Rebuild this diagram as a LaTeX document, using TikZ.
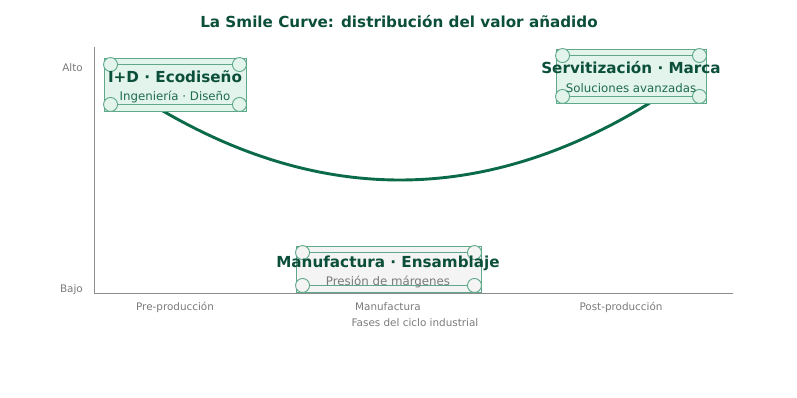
\documentclass[tikz,border=0pt]{standalone}
\usepackage{fontspec}
\setmainfont{DejaVu Sans}
\definecolor{deepgreen}{HTML}{0B4F3A}
\definecolor{curvegreen}{HTML}{0B6B48}
\definecolor{subgreen}{HTML}{1F6B4E}
\definecolor{boxline}{HTML}{5FA88A}
\definecolor{mintfill}{HTML}{E2F4EC}
\definecolor{greyfill}{HTML}{F3F4F3}
\definecolor{axisgrey}{HTML}{8C8C8C}
\definecolor{labelgrey}{HTML}{7A7A7A}
\tikzset{
	scrollbox/.style = {rectangle, draw=boxline, line width=0.9pt, inner sep=0pt},
	titletxt/.style = {font=\fontsize{15.2}{18}\selectfont\bfseries, text=deepgreen, inner sep=0pt},
	headtxt/.style = {font=\fontsize{15.2}{18}\selectfont\bfseries, text=deepgreen, inner sep=0pt},
	subtxt/.style = {font=\fontsize{11.8}{14}\selectfont, inner sep=0pt},
	ticktxt/.style = {font=\fontsize{10.4}{12}\selectfont, text=labelgrey, inner sep=0pt},
	axisline/.style = {draw=axisgrey, line width=0.9pt},
	smile/.style = {draw=curvegreen, line width=2.9pt}
}
\newcommand{\scrollcorners}[2]{%
	\draw[boxline, line width=0.9pt]
		([xshift=14pt, yshift=-7pt]#1.north west) -- ([xshift=-14pt, yshift=-7pt]#1.north east)
		([xshift=14pt, yshift=7pt]#1.south west) -- ([xshift=-14pt, yshift=7pt]#1.south east);
	\foreach \c/\dx/\dy in {north west/7/-7, north east/-7/-7, south west/7/7, south east/-7/7}
		\draw[boxline, fill=#2, line width=0.9pt] ([xshift=\dx pt, yshift=\dy pt]#1.\c) circle (7pt);
}

\begin{document}
\begin{tikzpicture}[x=1pt, y=-1pt]
	\useasboundingbox (0,0) rectangle (797,398);
	\node[titletxt] (title) at (399,22) {La Smile Curve: distribución del valor añadido};

	% axes
	\coordinate (ytop) at (94,47);
	\coordinate (origin) at (94,293);
	\coordinate (xend) at (733,293);
	\draw[axisline] (ytop) -- (origin) -- (xend);
	\node[ticktxt, anchor=east] (alto) at (83,68) {Alto};
	\node[ticktxt, anchor=east] (bajo) at (83,290) {Bajo};
	\node[ticktxt] (pre) at (175,307) {Pre-producción};
	\node[ticktxt] (manu) at (388,307) {Manufactura};
	\node[ticktxt] (post) at (621,307) {Post-producción};
	\node[ticktxt] (xlabel) at (415,323) {Fases del ciclo industrial};

	% smile curve
	\coordinate (lstart) at (140,97);
	\coordinate (bottom) at (400,180);
	\coordinate (rend) at (670,90);
	\draw[smile] (lstart) .. controls (226.7,152.3) and (313.3,180) .. (bottom)
		.. controls (490,180) and (580,150) .. (rend);

	% phases
	\node[scrollbox, fill=mintfill, minimum width=142pt, minimum height=53pt] (rdbox) at (175,84.5) {};
	\scrollcorners{rdbox}{mintfill}
	\node[headtxt] (rdhead) at (175,77) {I+D · Ecodiseño};
	\node[subtxt, text=subgreen] (rdsub) at (175,97) {Ingeniería · Diseño};

	\node[scrollbox, fill=greyfill, minimum width=185pt, minimum height=46pt] (mfbox) at (388.5,269) {};
	\scrollcorners{mfbox}{greyfill}
	\node[headtxt] (mfhead) at (388,263) {Manufactura · Ensamblaje};
	\node[subtxt, text=labelgrey] (mfsub) at (388,282) {Presión de márgenes};

	\node[scrollbox, fill=mintfill, minimum width=150pt, minimum height=54pt] (svbox) at (631,76) {};
	\scrollcorners{svbox}{mintfill}
	\node[headtxt] (svhead) at (631,68) {Servitización · Marca};
	\node[subtxt, text=subgreen] (svsub) at (631,88) {Soluciones avanzadas};
\end{tikzpicture}
\end{document}
